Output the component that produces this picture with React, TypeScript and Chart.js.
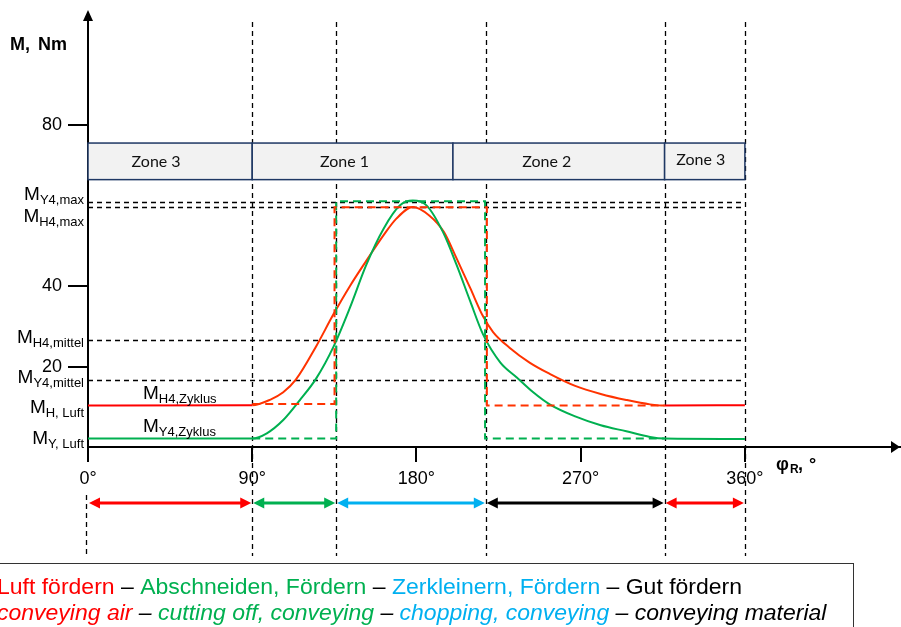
import React, { useEffect, useRef } from 'react';
import { Chart, registerables } from 'chart.js';

Chart.register(...registerables);

// ---------- data ----------
const xTicks = [0, 90, 180, 270, 360];
const yTicks = [20, 40, 80];

// M_H4 (red) torque curve
const hAngles = [0, 90, 100, 107, 114, 125, 134.5, 143.5, 152.5, 162, 169, 178, 187, 195, 202, 209.5, 216.5, 222, 231, 242, 253, 267, 281, 295, 308, 316, 360];
const hValues = [10.3, 10.4, 11.8, 13.6, 16.8, 25.0, 33.0, 40.0, 46.3, 52.7, 56.8, 59.7, 57.6, 53.5, 46.9, 39.5, 32.5, 28.6, 24.7, 21.0, 18.2, 15.2, 13.2, 11.7, 10.6, 10.3, 10.4];

// M_Y4 (green) torque curve
const yAngles = [0, 90, 98, 107, 116, 125, 134.5, 143.5, 152.5, 162, 171, 178, 185.5, 194.5, 202, 209.5, 216.5, 226, 235, 244, 253, 267, 281, 295, 308, 316, 360];
const yValues = [2.1, 2.1, 3.4, 6.7, 11.6, 17.0, 24.9, 34.6, 45.3, 54.3, 60.1, 61.3, 60.1, 53.5, 45.3, 36.2, 28.0, 21.0, 17.3, 13.6, 10.6, 7.6, 5.4, 3.9, 2.5, 2.1, 2.0];

// cycle (step) torques
const hZyklusAngles = [90, 135.1, 135.1, 218.6, 218.6, 316];
const hZyklusValues = [10.7, 10.7, 59.6, 59.6, 10.35, 10.35];
const yZyklusAngles = [90, 136, 136, 217.6, 217.6, 316];
const yZyklusValues = [2.1, 2.1, 61.1, 61.1, 2.1, 2.1];

// reference levels (black dashed) and their labels
const refLevels = [61.0, 59.7, 26.5, 16.7];
const leftLabelValues = [61.0, 59.7, 26.5, 16.7, 10.3, 2.1];
const leftLabelSubs = ['Y4,max', 'H4,max', 'H4,mittel', 'Y4,mittel', 'H, Luft', 'Y, Luft'];
const innerLabelValues = [10.3, 2.1];
const innerLabelSubs = ['H4,Zyklus', 'Y4,Zyklus'];

// phase boundaries
const phaseBounds = [90, 136, 218, 316, 360];

// zones
const zoneStarts = [0, 90, 200, 316];
const zoneEnds = [90, 200, 316, 360];
const zoneLabels = ['Zone 3', 'Zone 1', 'Zone 2', 'Zone 3'];
const zoneBottom = 66.5;
const zoneTop = 75.6;

// phase arrows
const arrowStarts = [0, 90, 136, 218, 316];
const arrowEnds = [90, 136, 218, 316, 360];

// legend
const legendDe = ['Luft fördern', ' – ', 'Abschneiden, Fördern', ' – ', 'Zerkleinern, Fördern', ' – ', 'Gut fördern'];
const legendEn = ['conveying air', ' – ', 'cutting off, conveying', ' – ', 'chopping, conveying', ' – ', 'conveying material'];

// ---------- styles ----------
const RED = '#ff0000';
const ORANGE = '#ff3300';
const GREEN = '#00b050';
const BLUE = '#00b0f0';
const BLACK = '#000000';
const arrowColors = [RED, GREEN, BLUE, BLACK, RED];
const legendColors = [RED, BLACK, GREEN, BLACK, BLUE, BLACK, BLACK];
const SANS = '"Liberation Sans", Arial, sans-serif';
const ZONE_FONT = 'Lato, "Open Sans", sans-serif';

function line(ctx: CanvasRenderingContext2D, x1: number, y1: number, x2: number, y2: number) {
  ctx.beginPath();
  ctx.moveTo(x1, y1);
  ctx.lineTo(x2, y2);
  ctx.stroke();
}

function drawSubLabel(ctx: CanvasRenderingContext2D, main: string, sub: string, x: number, baseline: number, align: 'left' | 'right') {
  const mainFont = `19px ${SANS}`;
  const subFont = `13px ${SANS}`;
  ctx.font = mainFont;
  const wMain = ctx.measureText(main).width;
  ctx.font = subFont;
  const wSub = ctx.measureText(sub).width;
  const start = align === 'right' ? x - wMain - wSub : x;
  ctx.textAlign = 'left';
  ctx.textBaseline = 'alphabetic';
  ctx.fillStyle = BLACK;
  ctx.font = mainFont;
  ctx.fillText(main, start, baseline);
  ctx.font = subFont;
  ctx.fillText(sub, start + wMain, baseline + 4);
}

function arrowHead(ctx: CanvasRenderingContext2D, tipX: number, tipY: number, dirX: number, dirY: number, len: number, half: number) {
  const bx = tipX - dirX * len;
  const by = tipY - dirY * len;
  const px = -dirY;
  const py = dirX;
  ctx.beginPath();
  ctx.moveTo(tipX, tipY);
  ctx.lineTo(bx + px * half, by + py * half);
  ctx.lineTo(bx - px * half, by - py * half);
  ctx.closePath();
  ctx.fill();
}

function drawRuns(ctx: CanvasRenderingContext2D, parts: string[], colors: string[], x: number, baseline: number) {
  let cx = x;
  parts.forEach((t, i) => {
    ctx.fillStyle = colors[i];
    ctx.fillText(t, cx, baseline);
    cx += ctx.measureText(t).width;
  });
}

const annotations = {
  id: 'annotations',
  beforeDatasetsDraw(chart: any) {
    const { ctx, scales } = chart;
    const x = scales.x;
    const y = scales.y;
    ctx.save();
    // black dashed reference lines
    ctx.strokeStyle = BLACK;
    ctx.lineWidth = 1.3;
    ctx.setLineDash([5, 4]);
    const x0 = x.getPixelForValue(0);
    const x360 = x.getPixelForValue(360);
    refLevels.forEach((v) => {
      const py = Math.round(y.getPixelForValue(v)) + 0.5;
      line(ctx, x0, py, x360, py);
    });
    phaseBounds.forEach((a) => {
      const px = Math.round(x.getPixelForValue(a)) + 0.5;
      line(ctx, px, 22, px, 556);
    });
    line(ctx, x0 - 1.5, 495, x0 - 1.5, 555);
    ctx.setLineDash([]);

    // zone boxes
    const shifts = [-14, -8, -12, -4];
    const yTop = y.getPixelForValue(zoneTop);
    const yBot = y.getPixelForValue(zoneBottom);
    zoneStarts.forEach((s, i) => {
      const x1 = x.getPixelForValue(s);
      const x2 = x.getPixelForValue(zoneEnds[i]);
      ctx.fillStyle = '#f2f2f2';
      ctx.fillRect(x1, yTop, x2 - x1, yBot - yTop);
      ctx.strokeStyle = '#1f3864';
      ctx.lineWidth = 1.5;
      ctx.strokeRect(x1, yTop, x2 - x1, yBot - yTop);
      ctx.fillStyle = '#111';
      ctx.font = `16px ${ZONE_FONT}`;
      ctx.textAlign = 'center';
      ctx.textBaseline = 'middle';
      ctx.fillText(zoneLabels[i], (x1 + x2) / 2 + shifts[i], (yTop + yBot) / 2 + (i === 3 ? -1 : 1));
    });
    ctx.restore();
  },
  afterDraw(chart: any) {
    const { ctx, scales, chartArea } = chart;
    const x = scales.x;
    const y = scales.y;
    ctx.save();
    ctx.fillStyle = BLACK;
    // axis arrowheads
    const ax = x.getPixelForValue(0);
    const ay = y.getPixelForValue(0);
    arrowHead(ctx, ax, 10, 0, -1, 11, 5);
    arrowHead(ctx, chartArea.right, ay, 1, 0, 9, 6);

    // axis titles
    ctx.textAlign = 'left';
    ctx.textBaseline = 'alphabetic';
    ctx.font = `bold 18px ${SANS}`;
    ctx.fillText('M,', 10, 50);
    ctx.fillText('Nm', 38, 50);
    ctx.fillText('φ', 776, 470);
    ctx.font = `bold 12px ${SANS}`;
    ctx.fillText('R', 790, 473);
    ctx.font = `bold 18px ${SANS}`;
    ctx.fillText(',', 798, 470);
    ctx.fillText('°', 809, 470);

    // left labels
    leftLabelValues.forEach((v, i) => {
      const offs = [-2, 15, 3, 3, 7, 5][i];
      drawSubLabel(ctx, 'M', leftLabelSubs[i], 84, y.getPixelForValue(v) + offs, 'right');
    });
    innerLabelValues.forEach((v, i) => {
      const offs = [-7, -6.5][i];
      drawSubLabel(ctx, 'M', innerLabelSubs[i], 143, y.getPixelForValue(v) + offs, 'left');
    });

    // phase arrows
    const arrowY = 503;
    arrowStarts.forEach((s, i) => {
      const x1 = x.getPixelForValue(s) + 1;
      const x2 = x.getPixelForValue(arrowEnds[i]) - 1;
      ctx.strokeStyle = arrowColors[i];
      ctx.fillStyle = arrowColors[i];
      ctx.lineWidth = 3;
      line(ctx, x1 + 8, arrowY, x2 - 8, arrowY);
      arrowHead(ctx, x1, arrowY, -1, 0, 11, 5.5);
      arrowHead(ctx, x2, arrowY, 1, 0, 11, 5.5);
    });

    // legend box
    ctx.strokeStyle = '#333';
    ctx.lineWidth = 1;
    ctx.strokeRect(-1.5, 563.5, 855, 80);
    ctx.textAlign = 'left';
    ctx.textBaseline = 'alphabetic';
    ctx.save();
    ctx.translate(-3, 0);
    ctx.scale(1.045, 1);
    ctx.font = `22px ${SANS}`;
    drawRuns(ctx, legendDe, legendColors, 0, 594);
    ctx.font = `italic 22px ${SANS}`;
    drawRuns(ctx, legendEn, legendColors, 0, 620);
    ctx.restore();
    ctx.restore();
  },
};

export default function App() {
  const ref = useRef<HTMLCanvasElement | null>(null);
  useEffect(() => {
    if (!ref.current) return;
    const pts = (xs: number[], ys: number[]) => xs.map((a, i) => ({ x: a, y: ys[i] }));
    const chart = new Chart(ref.current, {
      type: 'line',
      data: {
        datasets: [
          {
            label: 'M_H4,Zyklus',
            data: pts(hZyklusAngles, hZyklusValues),
            borderColor: ORANGE,
            borderDash: [8, 5],
            borderWidth: 2,
            pointRadius: 0,
            tension: 0,
          },
          {
            label: 'M_Y4,Zyklus',
            data: pts(yZyklusAngles, yZyklusValues),
            borderColor: GREEN,
            borderDash: [8, 5],
            borderWidth: 2,
            pointRadius: 0,
            tension: 0,
          },
          {
            label: 'M_Y4',
            data: pts(yAngles, yValues),
            borderColor: GREEN,
            borderWidth: 2,
            pointRadius: 0,
            cubicInterpolationMode: 'monotone',
          },
          {
            label: 'M_H4',
            data: pts(hAngles, hValues),
            borderColor: ORANGE,
            borderWidth: 2,
            pointRadius: 0,
            cubicInterpolationMode: 'monotone',
            segment: {
              borderColor: (c: any) => (c.p0.parsed.x >= 90 && c.p1.parsed.x <= 316 ? ORANGE : RED),
            },
          },
        ],
      },
      options: {
        responsive: false,
        animation: false,
        devicePixelRatio: 1,
        layout: { padding: { top: 13, right: 1, left: 0, bottom: 0 } },
        plugins: { legend: { display: false }, tooltip: { enabled: false } },
        scales: {
          x: {
            type: 'linear',
            min: 0,
            max: 445,
            afterBuildTicks: (s: any) => {
              s.ticks = xTicks.map((v) => ({ value: v }));
            },
            afterFit: (s: any) => {
              s.height = 180;
            },
            grid: { drawOnChartArea: false, drawTicks: true, tickLength: 15, color: BLACK, lineWidth: 2 },
            border: { display: true, color: BLACK, width: 2 },
            ticks: {
              callback: (v: any) => `${v}°`,
              color: BLACK,
              font: { family: SANS, size: 18 },
              padding: 6,
              maxRotation: 0,
              autoSkip: false,
            },
          },
          y: {
            type: 'linear',
            min: 0,
            max: 107,
            afterBuildTicks: (s: any) => {
              s.ticks = yTicks.map((v) => ({ value: v }));
            },
            afterFit: (s: any) => {
              s.width = 88;
            },
            grid: { drawOnChartArea: false, drawTicks: true, tickLength: 20, color: BLACK, lineWidth: 2 },
            border: { display: true, color: BLACK, width: 2 },
            ticks: {
              color: BLACK,
              font: { family: SANS, size: 18 },
              padding: 6,
              autoSkip: false,
            },
          },
        },
      },
      plugins: [annotations],
    } as any);
    return () => chart.destroy();
  }, []);
  return (
    <div style={{ position: 'absolute', left: 0, top: 0, width: 901, height: 627 }}>
      <canvas ref={ref} width={901} height={627} style={{ display: 'block', width: 901, height: 627 }} />
    </div>
  );
}
